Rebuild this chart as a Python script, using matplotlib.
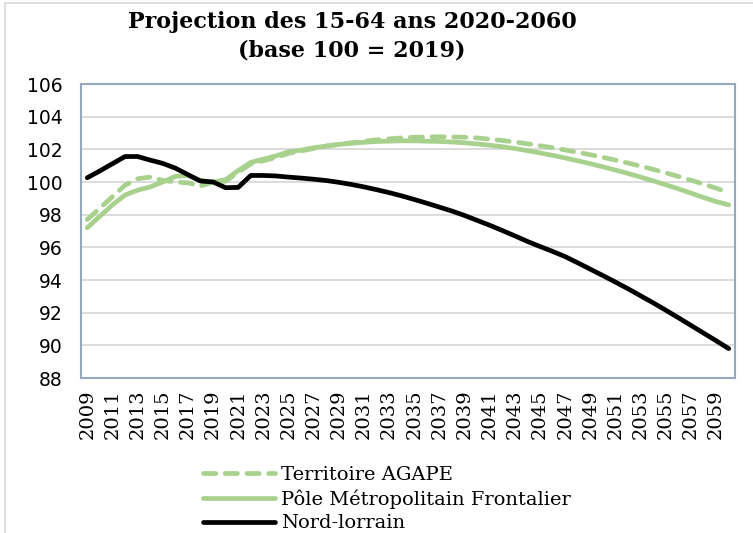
import matplotlib
matplotlib.use("Agg")
import matplotlib.pyplot as plt
from matplotlib.lines import Line2D

years = list(range(2009, 2061))

agape = [97.7, 98.4, 99.1, 99.8, 100.2, 100.3, 100.1, 100.0, 99.95, 99.75,
         100.0, 100.05, 100.6, 101.1, 101.3, 101.5, 101.75, 101.9, 102.05, 102.2,
         102.3, 102.4, 102.5, 102.58, 102.64, 102.7, 102.74, 102.76, 102.77, 102.76,
         102.74, 102.7, 102.62, 102.54, 102.45, 102.34, 102.22, 102.1, 101.96, 101.82,
         101.67, 101.51, 101.34, 101.16, 100.97, 100.77, 100.56, 100.34, 100.11, 99.87,
         99.62, 99.35]

pole = [97.2, 97.9, 98.6, 99.2, 99.5, 99.7, 100.0, 100.34, 100.4, 100.1,
        100.0, 100.14, 100.7, 101.2, 101.4, 101.6, 101.85, 101.95, 102.1, 102.2,
        102.3, 102.37, 102.43, 102.48, 102.5, 102.52, 102.52, 102.5, 102.48, 102.45,
        102.4, 102.33, 102.25, 102.16, 102.05, 101.92, 101.78, 101.63, 101.47, 101.3,
        101.12, 100.93, 100.73, 100.52, 100.3, 100.07, 99.83, 99.58, 99.32, 99.05,
        98.8, 98.6]

nord = [100.26, 100.68, 101.12, 101.56, 101.56, 101.34, 101.14, 100.85, 100.45, 100.06,
        100.0, 99.65, 99.67, 100.4, 100.4, 100.37, 100.3, 100.24, 100.17, 100.09,
        99.98, 99.85, 99.7, 99.53, 99.35, 99.15, 98.93, 98.7, 98.46, 98.22,
        97.95, 97.65, 97.35, 97.03, 96.7, 96.36, 96.05, 95.75, 95.43, 95.05,
        94.66, 94.27, 93.87, 93.46, 93.03, 92.6, 92.15, 91.69, 91.22, 90.75,
        90.28, 89.8]

labels = ["Territoire AGAPE", "Pôle Métropolitain Frontalier", "Nord-lorrain"]

GREEN = "#A9D18E"
SPINE = "#95A8C0"
GRID = "#D9D9D9"

fig = plt.figure(figsize=(7.53, 5.33), dpi=100)
ax = fig.add_axes([81 / 753, 1 - 378 / 533, (735 - 81) / 753, (378 - 84) / 533])

x = list(range(len(years)))
ax.plot(x, agape, color=GREEN, lw=3.4, dashes=(2.6, 2.0), dash_capstyle="round",
        solid_capstyle="round", zorder=3)
ax.plot(x, pole, color=GREEN, lw=3.4, solid_capstyle="round", zorder=4)
ax.plot(x, nord, color="black", lw=3.4, solid_capstyle="round", zorder=5)

ax.set_xlim(-0.5, len(years) - 0.5)
ax.set_ylim(88, 106)
ax.set_yticks(range(88, 107, 2))
ax.tick_params(axis="y", length=0, pad=13, labelsize=13.5)
ax.set_xticks(x[::2])
ax.set_xticklabels([str(y) for y in years[::2]], rotation=90,
                   family="DejaVu Serif", fontsize=14)
ax.tick_params(axis="x", length=0, pad=8)
ax.grid(axis="y", color=GRID, lw=1.3)
ax.set_axisbelow(True)
for s in ax.spines.values():
    s.set_color(SPINE)
    s.set_linewidth(1.5)

fig.text(352 / 753, 1 - 22 / 533, "Projection des 15-64 ans 2020-2060",
         ha="center", va="center", family="DejaVu Serif", weight="bold", fontsize=16)
fig.text(352 / 753, 1 - 50 / 533, "(base 100 = 2019)",
         ha="center", va="center", family="DejaVu Serif", weight="bold", fontsize=16)

handles = [
    Line2D([], [], color=GREEN, lw=3.4, dashes=(2.6, 2.0), dash_capstyle="round"),
    Line2D([], [], color=GREEN, lw=3.4, solid_capstyle="round"),
    Line2D([], [], color="black", lw=3.4, solid_capstyle="round"),
]
fig.legend(handles, labels, loc="upper left", bbox_to_anchor=(203 / 753, 1 - 466 / 533),
           frameon=False, prop={"family": "DejaVu Serif", "size": 14},
           handlelength=3.7, handletextpad=0.3, labelspacing=0.28, borderaxespad=0,
           borderpad=0)

# light chart border (top and left visible)
fig.add_artist(Line2D([5 / 753, 5 / 753], [0, 1 - 3 / 533], color="#D9D9D9", lw=1.2,
                      transform=fig.transFigure))
fig.add_artist(Line2D([5 / 753, 1], [1 - 3 / 533, 1 - 3 / 533], color="#D9D9D9", lw=1.2,
                      transform=fig.transFigure))

fig.savefig("out.png", dpi=100)
